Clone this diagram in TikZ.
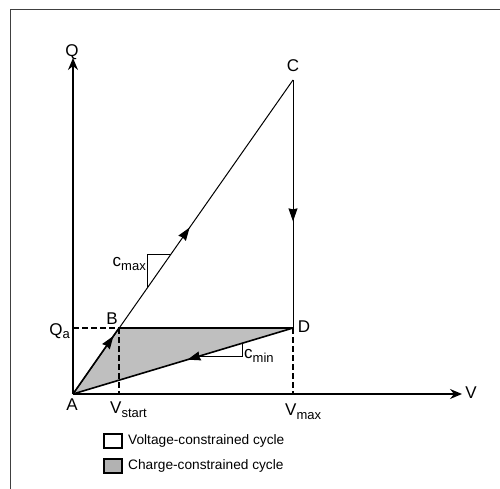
\documentclass[tikz,border=0pt]{standalone}
\usepackage{fontspec}
\setmainfont{Liberation Sans}
\usetikzlibrary{arrows.meta, decorations.markings}

\newcommand{\lowsub}[1]{\raisebox{-0.4ex}{\fontsize{13}{14}\selectfont #1}}

\begin{document}
\begin{tikzpicture}[
    x=1pt, y=-1pt,
    lbl/.style={font=\fontsize{17}{19}\selectfont, inner sep=0pt},
    legtext/.style={font=\fontsize{13.7}{15}\selectfont, inner sep=0pt, anchor=west},
    axis/.style={line width=1.4pt, -{Stealth[length=12pt, width=10pt, inset=4pt]}},
    dashline/.style={line width=1.2pt, dash pattern=on 5.5pt off 3.5pt},
    midarrow/.style={postaction={decorate}, decoration={markings,
        mark=at position #1 with {\arrow{Stealth[length=13pt, width=9pt, inset=1pt]}}}},
    legbox/.style={draw, line width=1.1pt, minimum width=18pt, minimum height=14pt, inner sep=0pt}
]
\useasboundingbox (0,0) rectangle (500,489);

% frame
\draw[line width=0.9pt, black!75] (500,9) -- (10,9) -- (10,489);

% cycle corners
\coordinate (A) at (73,394);
\coordinate (B) at (119,328);
\coordinate (C) at (293,80);
\coordinate (D) at (293,328);
\coordinate (qa) at (73,328);
\coordinate (vs) at (119,394);
\coordinate (vm) at (293,394);
\coordinate (qtop) at (73,58);
\coordinate (vend) at (462,394);

% charge-constrained area
\fill[black!25] (A) -- (B) -- (D) -- cycle;

% axes
\draw[axis] (A) -- (qtop);
\draw[axis] (A) -- (vend);

% dashed guides
\draw[dashline] (qa) -- (B);
\draw[dashline] (B) -- (vs);
\draw[dashline] (D) -- (vm);

% voltage-constrained cycle
\draw[line width=1pt, midarrow=0.53] (A) -- (C);
\draw[line width=1pt, black!60] (C) -- (D);
\draw[line width=1pt, midarrow=0.57] (C) -- (D);

% charge-constrained cycle
\draw[line width=1.6pt, midarrow=0.88] (A) -- (B);
\draw[line width=1.5pt] (B) -- (D);
\draw[line width=1.6pt, midarrow=0.48] (D) -- (A);

% slope triangles
\coordinate (cmaxlo) at (147,288);
\coordinate (cmaxtop) at (147,254);
\coordinate (cmaxhi) at (171,254);
\draw[line width=1pt] (cmaxlo) -- (cmaxtop) -- (cmaxhi);
\coordinate (cminlo) at (200,356);
\coordinate (cmincorner) at (242,356);
\coordinate (cminhi) at (242,343);
\draw[line width=1pt] (cminlo) -- (cmincorner) -- (cminhi);

% labels
\node[lbl] (Qlbl) at (72,52) {Q};
\node[lbl] (Vlbl) at (471,393) {V};
\node[lbl] (Albl) at (72,405) {A};
\node[lbl] (Blbl) at (112,319) {B};
\node[lbl] (Clbl) at (293,66) {C};
\node[lbl] (Dlbl) at (304,327) {D};
\node[lbl, anchor=east] (Qalbl) at (70,331) {Q\lowsub{a}};
\node[lbl, anchor=west] (Vslbl) at (110,410) {V\lowsub{start}};
\node[lbl, anchor=west] (Vmlbl) at (285,412) {V\lowsub{max}};
\node[lbl, anchor=east] (cmaxlbl) at (146,264) {c\lowsub{max}};
\node[lbl, anchor=west] (cminlbl) at (244,356) {c\lowsub{min}};

% legend
\node[legbox, fill=white] (volbox) at (113,441) {};
\node[legtext] (voltxt) at (128,441) {Voltage-constrained cycle};
\node[legbox, fill=black!30] (chbox) at (113,466) {};
\node[legtext] (chtxt) at (128,466) {Charge-constrained cycle};
\end{tikzpicture}
\end{document}
